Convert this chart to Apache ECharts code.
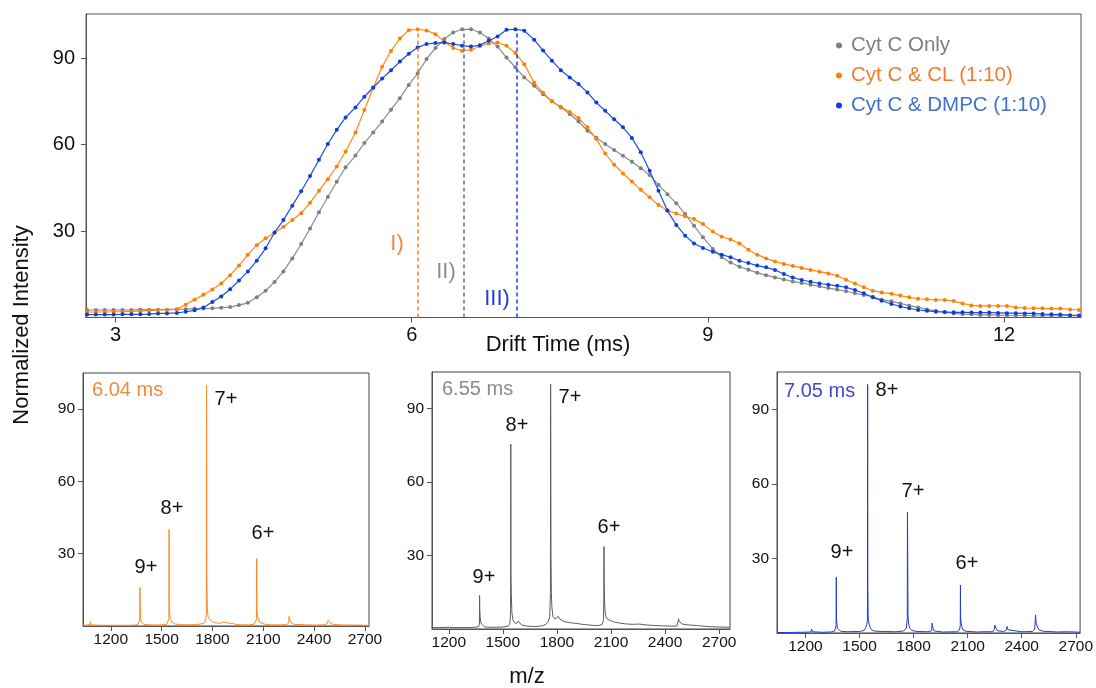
<!DOCTYPE html>
<html>
<head>
<meta charset="utf-8">
<script src="https://cdn.jsdelivr.net/npm/echarts@6.0.0/dist/echarts.min.js"></script>
<style>
  html, body { margin: 0; padding: 0; background: #fff; }
  #chart { width: 1096px; height: 688px; }
</style>
</head>
<body>
<div id="chart"></div>
<script>
// ---------------- DATA ----------------
// Arrival-time distributions (drift time in ms, normalized intensity)
const driftTime = [
  2.71,2.80,2.89,2.98,3.07,3.16,3.25,3.34,3.43,3.52,
  3.62,3.71,3.80,3.89,3.98,4.07,4.16,4.25,4.34,4.43,
  4.52,4.61,4.70,4.79,4.88,4.97,5.06,5.15,5.24,5.33,
  5.43,5.52,5.61,5.70,5.79,5.88,5.97,6.06,6.15,6.24,
  6.33,6.42,6.51,6.60,6.69,6.78,6.87,6.96,7.05,7.14,
  7.24,7.33,7.42,7.51,7.60,7.69,7.78,7.87,7.96,8.05,
  8.14,8.23,8.32,8.41,8.50,8.59,8.68,8.77,8.86,8.95,
  9.05,9.14,9.23,9.32,9.41,9.50,9.59,9.68,9.77,9.86,
  9.95,10.04,10.13,10.22,10.31,10.40,10.49,10.58,10.67,10.76,
  10.86,10.95,11.04,11.13,11.22,11.31,11.40,11.49,11.58,11.67,
  11.76,11.85,11.94,12.03,12.12,12.21,12.30,12.39,12.48,12.57,
  12.67,12.76
];
const cytOnly = [
  2.6,2.6,2.6,2.6,2.6,2.6,2.7,2.7,2.7,2.7,
  2.8,2.9,3.1,3.1,3.2,3.4,3.6,4.3,5.1,7.0,
  9.3,12.3,16.0,20.5,25.5,30.9,36.5,41.8,47.1,52.1,
  56.2,60.5,64.2,68.0,72.1,76.1,80.7,84.7,89.7,93.5,
  96.6,98.9,100,100,98.9,96.8,94.0,90.2,86.8,83.3,
  80.4,77.5,75.0,72.9,70.6,68.0,64.8,62.4,60.2,58.1,
  56.1,54.0,51.8,49.4,46.0,42.8,39.6,35.9,31.8,27.8,
  23.8,20.9,19.1,17.6,16.6,15.5,14.7,13.9,13.2,12.5,
  12.0,11.4,10.8,10.2,9.7,9.1,8.4,7.8,7.2,6.2,
  5.6,4.9,4.1,3.5,2.8,2.3,1.8,1.4,1.2,1.1,
  0.9,0.9,0.8,0.7,0.7,0.7,0.6,0.6,0.6,0.6,
  0.6,0.6
];
const cytCL = [
  1.9,1.9,1.9,2.0,2.0,2.1,2.2,2.4,2.6,2.7,
  2.9,4.4,6.2,7.9,9.7,11.8,14.7,18.0,21.8,25.1,
  27.5,29.4,31.5,33.8,36.2,39.8,44.0,48.0,52.4,57.6,
  64.2,72.0,79.6,87.0,92.5,96.8,99.7,100,99.6,98.3,
  95.8,93.5,92.5,92.9,94.1,95.1,95.4,94.3,91.8,87.9,
  81.5,78.0,75.0,73.1,71.3,69.2,66.0,61.9,56.9,53.0,
  50.0,47.2,44.3,41.7,39.0,37.1,36.1,35.1,34.2,32.4,
  29.8,28.0,27.1,25.7,23.5,21.8,20.5,19.4,18.6,17.9,
  17.2,16.5,15.9,15.3,14.5,13.1,11.8,10.5,9.3,8.7,
  8.2,7.6,7.0,6.5,6.3,6.1,6.1,5.7,4.9,4.2,
  4.0,4.0,4.0,4.0,3.5,3.3,3.2,3.2,3.1,3.1,
  2.8,2.6
];
const cytDMPC = [
  1.0,1.0,1.0,1.0,1.1,1.1,1.1,1.2,1.4,1.4,
  1.6,2.0,2.5,3.5,5.4,7.3,9.8,12.8,16.0,19.7,
  24.0,29.5,33.8,38.8,43.8,49.1,54.7,60.2,65.1,69.4,
  72.9,76.6,79.8,82.9,85.8,88.8,91.5,93.7,94.9,95.2,
  95.4,94.9,94.3,94.0,94.5,96.0,97.5,99.8,100,99.5,
  96.4,92.6,89.1,85.8,83.3,81.0,78.1,74.6,71.7,68.8,
  66.0,62.3,57.3,50.9,44.0,37.1,32.1,28.4,25.7,24.1,
  22.8,21.8,20.9,19.7,18.9,18.0,17.4,16.5,15.1,13.9,
  13.0,12.4,11.8,11.4,11.0,10.5,9.5,8.4,7.0,5.8,
  4.7,3.8,3.2,2.6,2.3,2.0,1.9,1.8,1.8,1.7,
  1.7,1.7,1.6,1.5,1.5,1.4,1.4,1.2,1.1,1.0,
  0.8,0.7
];
const seriesNames = ['Cyt C Only', 'Cyt C & CL (1:10)', 'Cyt C & DMPC (1:10)'];
// selected drift times (dashed markers) : CL, Only, DMPC
const markerTimes = [6.06, 6.53, 7.06];
const markerTop = 100;
const markerLabels = ['I)', 'II)', 'III)'];

const driftTicks = [3, 6, 9, 12];
const intensityTicks = [30, 60, 90];
const mzTicks = [1200, 1500, 1800, 2100, 2400, 2700];

// Mass spectra [m/z, intensity]
const spectrumCL = [
  [1036,0.4],[1060,0.4],[1078,0.5],[1080,1.8],[1083,0.5],[1100,0.4],[1150,0.3],[1200,0.3],[1250,0.3],[1300,0.3],
  [1340,0.4],[1360,0.6],[1368,1.0],[1371,2.5],[1372,16],[1373,9],[1374,7],[1376,3],[1380,1.6],[1386,1.0],
  [1395,0.7],[1420,0.5],[1460,0.4],[1500,0.5],[1530,0.7],[1538,1.2],[1543,3],[1544,40],[1545,12],[1546,8],
  [1548,4.5],[1552,3],[1558,1.8],[1566,1.2],[1580,0.8],[1610,0.6],[1650,0.5],[1700,0.6],[1740,0.9],[1752,1.3],
  [1760,2.5],[1764,5],[1765,100],[1766,81],[1767,21],[1768,14],[1770,7],[1774,4],[1780,3],[1790,2.2],
  [1805,1.6],[1815,2.0],[1822,1.3],[1830,1.8],[1845,1.1],[1860,1.6],[1870,1.0],[1885,1.5],[1900,0.9],[1915,1.2],
  [1940,0.6],[1980,0.5],[2020,0.5],[2045,0.7],[2055,1.2],[2059,2.5],[2060,6],[2061,28],[2062,9],[2064,6],
  [2068,3.5],[2075,2],[2088,1.2],[2105,0.8],[2140,0.5],[2200,0.5],[2240,0.6],[2250,1.5],[2252,4],[2258,2.5],
  [2266,1.3],[2280,0.7],[2310,0.6],[2318,1.2],[2326,0.6],[2350,0.5],[2400,0.4],[2460,0.5],[2475,0.8],[2483,2.4],
  [2486,2],[2495,1.3],[2510,0.7],[2550,0.5],[2600,0.4],[2650,0.4],[2660,0.8],[2675,0.4],[2700,0.3],[2724,0.3]
];
const spectrumOnly = [
  [1107,0.6],[1150,0.6],[1200,0.7],[1230,0.6],[1240,1.0],[1246,0.6],[1300,0.6],[1350,0.7],[1365,1.0],[1370,2],
  [1371,13.7],[1372,8],[1374,5],[1377,3],[1382,2],[1390,1.2],[1400,0.8],[1450,0.7],[1500,0.8],[1530,1.2],
  [1540,2.5],[1543,8],[1544,75.5],[1545,22],[1547,14],[1550,7],[1555,4],[1562,2.8],[1575,2.2],[1585,3.2],
  [1592,2.4],[1605,1.6],[1630,1.2],[1680,1.0],[1720,1.3],[1740,2.0],[1752,3.0],[1760,5],[1764,15],[1765,100],
  [1766,70],[1767,31],[1769,15],[1772,9],[1778,5],[1790,4],[1800,3.5],[1808,5.2],[1814,4.2],[1822,3.6],
  [1835,3.2],[1850,2.9],[1870,2.6],[1890,2.4],[1910,2.3],[1940,1.9],[1970,1.7],[2000,1.5],[2030,1.4],[2050,1.8],
  [2058,3.5],[2060,12],[2061,33.7],[2062,21],[2064,12],[2067,7],[2072,5],[2080,4],[2095,3.5],[2105,3.3],
  [2120,2.8],[2150,2.4],[2180,2.1],[2220,1.9],[2245,2.0],[2250,2.6],[2258,2.0],[2290,1.7],[2330,1.5],[2380,1.3],
  [2430,1.2],[2465,1.2],[2472,2.0],[2475,4.2],[2478,3.0],[2485,2.2],[2500,1.9],[2540,1.6],[2580,1.4],[2620,1.1],
  [2660,0.9],[2700,0.8],[2760,0.7]
];
const spectrumDMPC = [
  [1042,0.2],[1100,0.2],[1180,0.3],[1230,0.4],[1234,1.6],[1238,0.5],[1290,0.3],[1340,0.4],[1362,0.8],[1368,1.5],
  [1370,3],[1371,22.4],[1372,6],[1374,4],[1377,2],[1382,1.2],[1395,0.7],[1430,0.5],[1500,0.6],[1525,1.0],
  [1535,2.2],[1540,3.5],[1544,5],[1545,100],[1546,20],[1548,6],[1552,4],[1558,2.5],[1566,1.3],[1580,0.8],
  [1620,0.6],[1700,0.5],[1745,0.8],[1760,2],[1765,6],[1766,48.5],[1767,37.7],[1769,7],[1772,4],[1778,2],
  [1790,1],[1820,0.6],[1880,0.5],[1900,0.9],[1903,4],[1907,2],[1915,0.8],[1960,0.4],[2040,0.5],[2055,1.2],
  [2059,3],[2060,19.3],[2061,6],[2064,4],[2068,2.5],[2075,1.2],[2090,0.7],[2150,0.4],[2185,0.5],[2188,1.2],
  [2192,0.5],[2240,0.5],[2248,1.5],[2251,3.2],[2256,2],[2265,0.9],[2300,0.6],[2315,1.2],[2319,2.6],[2324,1.3],
  [2335,0.7],[2400,0.5],[2460,0.6],[2472,1.5],[2477,7.3],[2480,4],[2487,2.5],[2495,1.3],[2520,0.7],[2600,0.4],
  [2645,0.5],[2650,1.1],[2656,0.6],[2700,0.4],[2724,0.3]
];
const panelTimes = ['6.04 ms', '6.55 ms', '7.05 ms'];
const chargeLabels = ['9+', '8+', '7+', '6+'];

// ---------------- CHART ----------------
const FONT = '"Liberation Sans", Arial, "DejaVu Sans", sans-serif';
const chart = echarts.init(document.getElementById('chart'), null, { renderer: 'canvas' });

const axisCol = '#555';
const plain = v => String(v);
function xAxisCfg(grid, min, max, ticks, fs, margin) {
  return {
    type: 'value', gridIndex: grid, min: min, max: max,
    axisLine: { show: true, onZero: false, lineStyle: { color: axisCol, width: 1 } },
    axisTick: { show: true, customValues: ticks, length: 5, lineStyle: { color: axisCol } },
    axisLabel: { customValues: ticks, formatter: plain, fontSize: fs, color: '#111', margin: margin, fontFamily: FONT },
    splitLine: { show: false }
  };
}
function yAxisCfg(grid, max, fs, margin) {
  return {
    type: 'value', gridIndex: grid, min: 0, max: max,
    axisLine: { show: true, onZero: false, lineStyle: { color: axisCol, width: 1 } },
    axisTick: { show: true, customValues: intensityTicks, length: 5, lineStyle: { color: axisCol } },
    axisLabel: { customValues: intensityTicks, formatter: plain, fontSize: fs, color: '#111', margin: margin, fontFamily: FONT },
    splitLine: { show: false }
  };
}
function pairs(xs, ys) { return xs.map((x, i) => [x, ys[i]]); }
function dashed(t, color) {
  return {
    symbol: 'none', silent: true, animation: false,
    label: { show: false },
    lineStyle: { type: [4, 3], color: color, width: 1.5 },
    data: [[{ coord: [t, 0] }, { coord: [t, markerTop] }]]
  };
}
function topSeries(name, ys, color, lineColor, markIdx, markColor) {
  return {
    type: 'line', name: name, xAxisIndex: 0, yAxisIndex: 0,
    data: pairs(driftTime, ys),
    symbol: 'circle', symbolSize: 4, showAllSymbol: true,
    itemStyle: { color: color },
    lineStyle: { width: 1.2, color: lineColor },
    markLine: dashed(markerTimes[markIdx], markColor),
    animation: false
  };
}
function specSeries(idx, data, color) {
  return {
    type: 'line', xAxisIndex: idx, yAxisIndex: idx, data: data,
    symbol: 'none', lineStyle: { width: 1, color: color }, animation: false
  };
}
function txt(x, y, s, size, color, align) {
  return {
    type: 'text', x: x, y: y, silent: true,
    style: { text: s, fontSize: size, fontFamily: FONT, fill: color,
             align: align || 'center', verticalAlign: 'middle' }
  };
}

const option = {
  backgroundColor: '#ffffff',
  animation: false,
  textStyle: { fontFamily: FONT },
  grid: [
    { left: 86, top: 14, width: 995, height: 303.5, show: true, borderColor: axisCol, borderWidth: 1 },
    { left: 83, top: 373, width: 286, height: 253, show: true, borderColor: '#444', borderWidth: 1 },
    { left: 432, top: 372, width: 298, height: 257, show: true, borderColor: '#444', borderWidth: 1 },
    { left: 777, top: 372, width: 304, height: 261, show: true, borderColor: '#444', borderWidth: 1 }
  ],
  xAxis: [
    xAxisCfg(0, 2.7, 12.78, driftTicks, 20, 8),
    xAxisCfg(1, 1036, 2724, mzTicks, 15.5, 6),
    xAxisCfg(2, 1107, 2760, mzTicks, 15.5, 6),
    xAxisCfg(3, 1042, 2724, mzTicks, 15.5, 6)
  ],
  yAxis: [
    yAxisCfg(0, 105.3, 20, 11),
    yAxisCfg(1, 105, 15.5, 8),
    yAxisCfg(2, 105, 15.5, 8),
    yAxisCfg(3, 105, 15.5, 8)
  ],
  legend: {
    orient: 'vertical', left: 831, top: 30,
    icon: 'circle', itemWidth: 6, itemHeight: 6, itemGap: 9,
    selectedMode: false,
    textStyle: { fontSize: 20.5, lineHeight: 20, fontFamily: FONT, padding: [0, 0, 0, 4] },
    data: [
      { name: seriesNames[0], textStyle: { color: '#7f7f7f' } },
      { name: seriesNames[1], textStyle: { color: '#ed7d31' } },
      { name: seriesNames[2], textStyle: { color: '#4472c4' } }
    ]
  },
  series: [
    topSeries(seriesNames[0], cytOnly, '#7f7f7f', '#8c8c8c', 1, '#707070'),
    topSeries(seriesNames[1], cytCL, '#ff7f00', '#ff8a1a', 0, '#ff7f0e'),
    topSeries(seriesNames[2], cytDMPC, '#0a3ddc', '#1f4fe0', 2, '#1a3fd6'),
    specSeries(1, spectrumCL, '#ff8a1f'),
    specSeries(2, spectrumOnly, '#5e5e5e'),
    specSeries(3, spectrumDMPC, '#1f3fcc')
  ],
  graphic: [
    // axis titles
    { type: 'text', x: 22, y: 325, rotation: Math.PI / 2, silent: true,
      style: { text: 'Normalized Intensity', fontSize: 22, fontFamily: FONT, fill: '#111',
               align: 'center', verticalAlign: 'middle' } },
    txt(558, 345, 'Drift Time (ms)', 22, '#111'),
    txt(527, 677, 'm/z', 22, '#111'),
    // drift-time markers
    txt(397, 244, markerLabels[0], 22, '#f0883e'),
    txt(446, 272, markerLabels[1], 22, '#8c8c8c'),
    txt(497, 299, markerLabels[2], 22, '#1f3fd0'),
    // panel titles
    txt(92, 390, panelTimes[0], 20, '#f28a3c', 'left'),
    txt(442, 389, panelTimes[1], 20, '#8a8a8a', 'left'),
    txt(784, 391, panelTimes[2], 20, '#4646d2', 'left'),
    // charge states panel 1
    txt(146, 567, chargeLabels[0], 20, '#111'),
    txt(172, 508, chargeLabels[1], 20, '#111'),
    txt(226, 399, chargeLabels[2], 20, '#111'),
    txt(263, 533, chargeLabels[3], 20, '#111'),
    // panel 2
    txt(484, 577, chargeLabels[0], 20, '#111'),
    txt(517, 425, chargeLabels[1], 20, '#111'),
    txt(570, 397, chargeLabels[2], 20, '#111'),
    txt(609, 527, chargeLabels[3], 20, '#111'),
    // panel 3
    txt(842, 552, chargeLabels[0], 20, '#111'),
    txt(887, 390, chargeLabels[1], 20, '#111'),
    txt(913, 491, chargeLabels[2], 20, '#111'),
    txt(967, 563, chargeLabels[3], 20, '#111')
  ]
};
chart.setOption(option);
</script>
</body>
</html>
